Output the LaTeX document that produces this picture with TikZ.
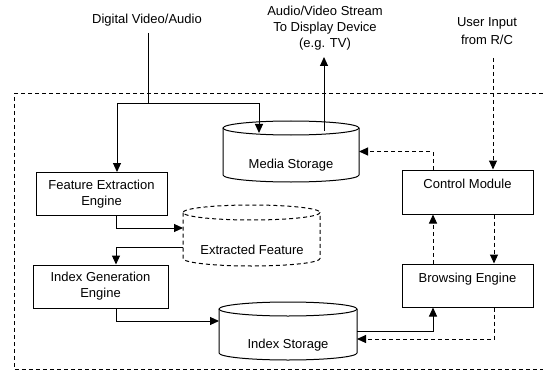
\documentclass[tikz,border=0pt]{standalone}
\usepackage{fontspec}
\setmainfont{Liberation Sans}
\usetikzlibrary{arrows.meta}
\newcommand\drawcyl[6]{% #1 opts, #2 cx, #3 ytop, #4 ybot, #5 rx, #6 ry
  \draw[#1] ({#2-#5},#3) -- ({#2-#5},#4) arc[start angle=180,end angle=0,x radius=#5,y radius=#6] -- ({#2+#5},#3);
  \draw[#1] (#2,#3) ellipse[x radius=#5,y radius=#6];}
\begin{document}
\begin{tikzpicture}[x=1pt,y=-1pt,
  lbl/.style={font=\fontsize{13}{16}\selectfont, inner sep=0pt, align=center},
  box/.style={draw, line width=1pt, minimum width=131pt, minimum height=43pt, inner sep=0pt, align=center, font=\fontsize{13}{16}\selectfont},
  conn/.style={line width=1pt},
  arr/.style={conn, -{Triangle[length=9pt,width=8pt]}},
  dsh/.style={dash pattern=on 4pt off 3pt},
  holder/.style={inner sep=0pt, outer sep=0pt}]
\useasboundingbox (0,0) rectangle (543,377);
% frame
\draw[conn,dsh] (543,94) -- (14,94) -- (14,369) -- (543,369);
% texts
\node[lbl] (dv) at (147,20) {Digital Video/Audio};
\node[lbl] (av) at (325,28) {Audio/Video Stream\\To Display Device\\(e.g. TV)};
\node[lbl] (ui) at (487,31) {User Input\\[2pt]from R/C};
% boxes
\node[box] (fe) at (101.5,194) {Feature Extraction\\Engine};
\node[box, minimum width=135pt] (ig) at (100.5,286.5) {Index Generation\\Engine};
\node[box, minimum height=44pt] (cm) at (467.5,192) {Control Module\\\mbox{}};
\node[box] (be) at (467.5,285.5) {Browsing Engine\\\mbox{}};
% cylinders
\drawcyl{conn}{291}{128}{175}{68}{7}
\node[holder, minimum width=136pt, minimum height=61pt] (ms) at (291,151.5) {};
\node[lbl] (mst) at (291,165) {Media Storage};
\drawcyl{conn,dsh}{251.5}{212.5}{258.5}{68.5}{7.5}
\node[holder, minimum width=137pt, minimum height=61pt] (ef) at (251.5,235.5) {};
\node[lbl] (eft) at (252,250) {Extracted Feature};
\drawcyl{conn}{288}{309}{353}{69}{7}
\node[holder, minimum width=138pt, minimum height=58pt] (is) at (288,331) {};
\node[lbl] (ist) at (288,345) {Index Storage};
% free ends
\coordinate (dvin) at (148,33);
\coordinate (split) at (148,104);
\coordinate (msin) at (259,133);
\coordinate (msout) at (324,131);
\coordinate (avtip) at (324,57);
\coordinate (uiout) at (493,58);
% connectors
\draw[conn] (dvin) -- (split);
\draw[arr] (split) -| (117,0 |- fe.north);
\draw[arr] (split) -| (msin);
\draw[arr] (msout) -- (avtip);
\draw[arr,dsh] (uiout) -- (493,0 |- cm.north);
\draw[arr,dsh] (433,0 |- cm.north) |- (ms.east);
\draw[arr] (116,0 |- fe.south) |- (ef.west |- 0,228);
\draw[arr] (ef.west |- 0,247) -| (116,0 |- ig.north);
\draw[arr] (116,0 |- ig.south) |- (is.west |- 0,321);
\draw[arr] (is.east |- 0,331) -| (433,0 |- be.south);
\draw[arr,dsh] (494,0 |- be.south) |- (is.east |- 0,339);
\draw[arr,dsh] (433,0 |- be.north) -- (433,0 |- cm.south);
\draw[arr,dsh] (494,0 |- cm.south) -- (494,0 |- be.north);
\end{tikzpicture}
\end{document}
